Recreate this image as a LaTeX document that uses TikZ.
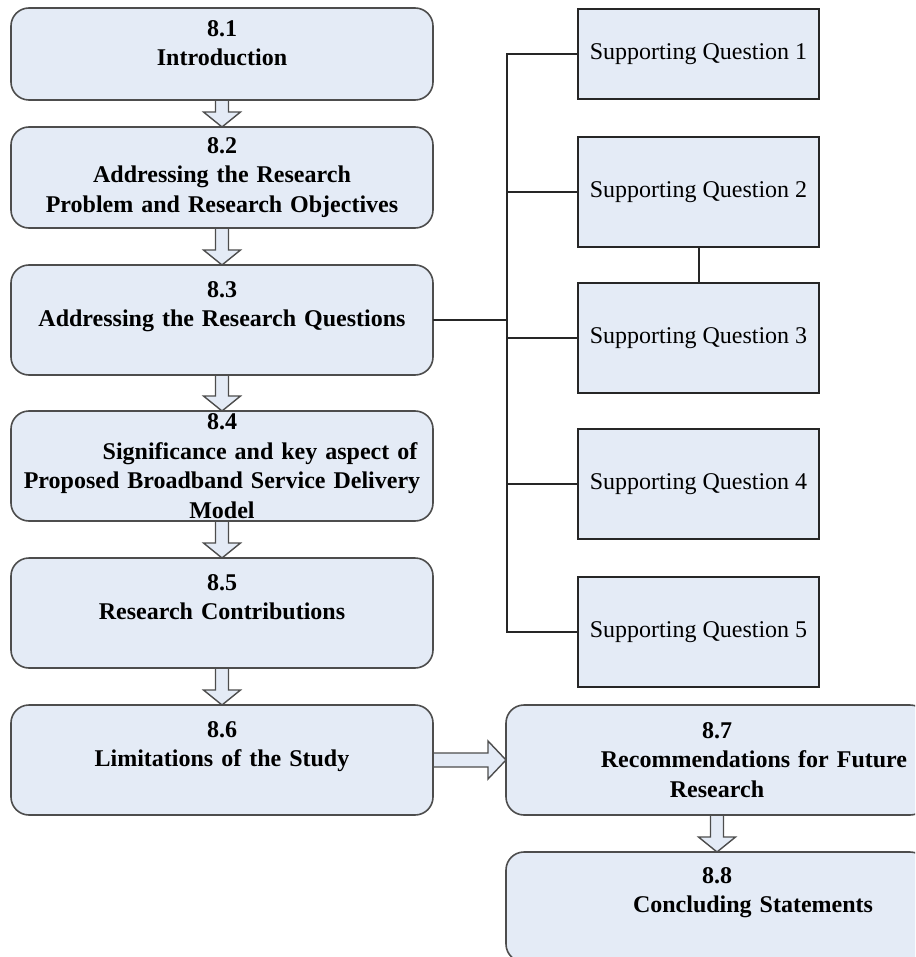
\documentclass[tikz,border=0pt]{standalone}
\usepackage{fontspec}
\setmainfont{Liberation Serif}
\usetikzlibrary{positioning,calc,backgrounds}
\definecolor{chblue}{HTML}{E4EBF6}
\definecolor{chedge}{HTML}{4D4D4D}
\definecolor{chline}{HTML}{262626}
\tikzset{
  section/.style ={draw=chedge, fill=chblue, line width=1.6pt, rounded corners=18pt,
                   text width=410pt, inner xsep=6pt, inner ysep=0pt, outer sep=0pt,
                   align=center, minimum height=110pt,
                   font=\fontsize{24}{29.5}\selectfont\bfseries},
  subq/.style    ={draw=chline, fill=chblue, line width=2.4pt, minimum width=241pt,
                   minimum height=110pt, inner sep=0pt, outer sep=0pt,
                   font=\fontsize{24}{29}\selectfont},
  wire/.style    ={draw=chline, line width=2pt},
  fatdown/.style ={draw=chedge, fill=chblue, line width=1.4pt, line join=miter,
    to path={let \p1=(\tikztostart), \p2=(\tikztotarget) in
      (\x1-6.5pt,\y1) -- (\x1-6.5pt,\y2+15pt) -- (\x1-18.5pt,\y2+15pt) -- (\x1,\y2)
      -- (\x1+18.5pt,\y2+15pt) -- (\x1+6.5pt,\y2+15pt) -- (\x1+6.5pt,\y1)}},
  fatright/.style={draw=chedge, fill=chblue, line width=1.4pt, line join=miter,
    to path={let \p1=(\tikztostart), \p2=(\tikztotarget) in
      (\x1,\y1+7pt) -- (\x2-18pt,\y1+7pt) -- (\x2-18pt,\y1+19pt) -- (\x2,\y1)
      -- (\x2-18pt,\y1-19pt) -- (\x2-18pt,\y1-7pt) -- (\x1,\y1-7pt)}},
}

\begin{document}
\begin{tikzpicture}[x=1pt,y=-1pt,node distance=37pt]
  \useasboundingbox (0,0) rectangle (915,957);
  \clip (0,0) rectangle (915,957);
  % main chain of sections
  \node[section,minimum height=92pt] (intro) at (222,54) {8.1\\Introduction\\[-16pt]\strut};
  \node[section,minimum height=101pt,below=27pt of intro] (objectives)
       {8.2\\Addressing the Research\\Problem and Research Objectives\hspace*{52pt}};
  \node[section,below=of objectives] (questions) {8.3\\Addressing the Research Questions\\[-6pt]\strut};
  \node[section,below=36pt of questions] (model)
       {8.4\\\hspace*{76pt}Significance and key aspect of\\Proposed Broadband Service Delivery\\Model};
  \node[section,below=of model] (contrib) {8.5\\Research Contributions\\[-6pt]\strut};
  \node[section,below=of contrib] (limits) {8.6\\Limitations of the Study\\[-6pt]\strut};
  \node[section,right=73pt of limits] (future) {8.7\\\hspace*{74pt}Recommendations for Future\\Research};
  \node[section,below=of future] (concl) {8.8\\\hspace*{72pt}Concluding Statements\\[-4pt]\strut};
  % supporting questions
  \node[subq,minimum height=90pt,right=145pt of intro] (sq1) {Supporting Question 1};
  \node[subq,below=38pt of sq1] (sq2) {Supporting Question 2};
  \node[subq,below=36pt of sq2] (sq3) {Supporting Question 3};
  \node[subq,below=36pt of sq3] (sq4) {Supporting Question 4};
  \node[subq,below=38pt of sq4] (sq5) {Supporting Question 5};

  \draw[wire] (sq1.west) -- ++(-71pt,0) coordinate (bus) |- (sq5.west);
  \foreach \q in {sq2,sq3,sq4}
    \draw[wire] (\q.west) -- (\q.west -| bus);
  \draw[wire] (questions.east) -- (questions.east -| bus);
  \draw[wire] (sq2.south) -- (sq3.north);

  \begin{scope}[on background layer]
    \foreach \a/\b in {intro/objectives,objectives/questions,questions/model,
                       model/contrib,contrib/limits,future/concl}
      \draw[fatdown] (\a.south) to (\b.north);
    \draw[fatright] (limits.east) to (future.west);
  \end{scope}
\end{tikzpicture}
\end{document}
